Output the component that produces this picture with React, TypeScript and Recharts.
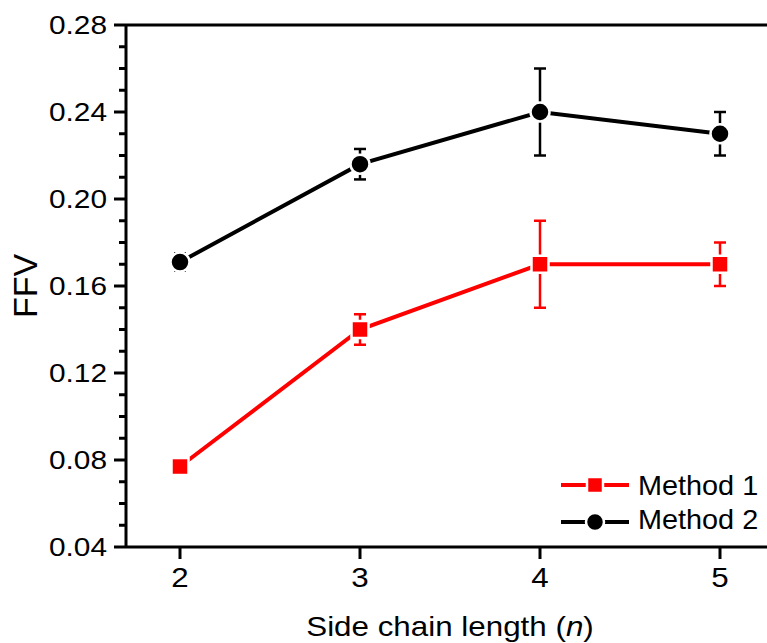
import React from 'react';
import { LineChart, Line, XAxis, YAxis, ErrorBar, ReferenceLine, Legend } from 'recharts';

const nValues = [2, 3, 4, 5];
const method1 = [0.077, 0.14, 0.17, 0.17];
const method1Err = [0.003, 0.007, 0.02, 0.01];
const method2 = [0.171, 0.216, 0.24, 0.23];
const method2Err = [0.004, 0.007, 0.02, 0.01];
const seriesNames = ['Method 1', 'Method 2'];
const xTicks = [2, 3, 4, 5];
const yMajorTicks = [0.04, 0.08, 0.12, 0.16, 0.2, 0.24, 0.28];
const yAllTicks = [
  0.04, 0.05, 0.06, 0.07, 0.08, 0.09, 0.1, 0.11, 0.12, 0.13, 0.14, 0.15, 0.16,
  0.17, 0.18, 0.19, 0.2, 0.21, 0.22, 0.23, 0.24, 0.25, 0.26, 0.27, 0.28,
];
const xAxisTitle = 'Side chain length (';
const yAxisTitle = 'FFV';

const data = nValues.map((n, i) => ({
  n,
  m1: method1[i],
  e1: method1Err[i],
  m2: method2[i],
  e2: method2Err[i],
}));

const FONT = '"Liberation Sans", Arial, Helvetica, sans-serif';
const RED = '#ff0000';
const BLACK = '#000000';

const YTick = (props: any) => {
  const { x, y, payload } = props;
  const v = payload.value as number;
  const major = yMajorTicks.some((t) => Math.abs(t - v) < 1e-9);
  return (
    <g>
      <line x1={x} x2={x - (major ? 12 : 7)} y1={y} y2={y} stroke={BLACK} strokeWidth={3} />
      {major && (
        <text
          transform={`translate(${x - 19},${y + 9}) scale(1.17,1)`}
          textAnchor="end"
          fontSize={25.5}
          fontFamily={FONT}
          fill={BLACK}
        >
          {v.toFixed(2)}
        </text>
      )}
    </g>
  );
};

const XTick = (props: any) => {
  const { x, y, payload } = props;
  return (
    <g>
      <line x1={x} x2={x} y1={y} y2={y + 12} stroke={BLACK} strokeWidth={3} />
      <text
        transform={`translate(${x},${y + 40}) scale(1.12,1)`}
        textAnchor="middle"
        fontSize={28}
        fontFamily={FONT}
        fill={BLACK}
      >
        {payload.value}
      </text>
    </g>
  );
};

const XLabel = (props: any) => {
  const vb = props.viewBox || {};
  const cx = (vb.x ?? 126) + (vb.width ?? 648) / 2;
  return (
    <text
      transform={`translate(${cx},636) scale(1.12,1)`}
      textAnchor="middle"
      fontSize={28}
      fontFamily={FONT}
      fill={BLACK}
    >
      {xAxisTitle}
      <tspan fontStyle="italic">n</tspan>)
    </text>
  );
};

const YLabel = (props: any) => {
  const vb = props.viewBox || {};
  const cy = (vb.y ?? 25) + (vb.height ?? 522) / 2;
  return (
    <text
      transform={`translate(37,${cy}) rotate(-90)`}
      textAnchor="middle"
      fontSize={34}
      fontFamily={FONT}
      fill={BLACK}
    >
      {yAxisTitle}
    </text>
  );
};

const SquareDot = (props: any) => {
  const { cx, cy, index } = props;
  if (cx == null || cy == null) return <g key={`s-${index}`} />;
  return (
    <rect
      key={`s-${index}`}
      x={cx - 8.5}
      y={cy - 8.5}
      width={17}
      height={17}
      fill={RED}
      stroke="#ffffff"
      strokeWidth={2.5}
    />
  );
};

const CircleDot = (props: any) => {
  const { cx, cy, index } = props;
  if (cx == null || cy == null) return <g key={`c-${index}`} />;
  return (
    <ellipse
      key={`c-${index}`}
      cx={cx}
      cy={cy}
      rx={9.5}
      ry={9.5}
      fill={BLACK}
      stroke="#ffffff"
      strokeWidth={2.5}
    />
  );
};

const LegendContent = () => (
  <svg width={210} height={75} style={{ display: 'block', overflow: 'visible' }}>
    <line x1={6} x2={74} y1={20} y2={20} stroke={RED} strokeWidth={4} />
    <rect x={32} y={12} width={16} height={16} fill={RED} stroke="#fff" strokeWidth={2.5} />
    <text
      transform="translate(83,30) scale(1.03,1)"
      fontSize={28}
      fontFamily={FONT}
      fill={BLACK}
    >
      {seriesNames[0]}
    </text>
    <line x1={6} x2={74} y1={57} y2={57} stroke={BLACK} strokeWidth={4} />
    <circle cx={40} cy={57} r={9} fill={BLACK} stroke="#fff" strokeWidth={2.5} />
    <text
      transform="translate(83,64) scale(1.03,1)"
      fontSize={28}
      fontFamily={FONT}
      fill={BLACK}
    >
      {seriesNames[1]}
    </text>
  </svg>
);

export default function App() {
  return (
    <div
      style={{
        position: 'absolute',
        left: 0,
        top: 0,
        width: 767,
        height: 643,
        overflow: 'hidden',
        background: '#fff',
      }}
    >
      <LineChart
        width={780}
        height={643}
        data={data}
        margin={{ top: 25, right: 6, bottom: 0, left: 0 }}
      >
        <XAxis
          dataKey="n"
          type="number"
          domain={[1.7, 5.3]}
          allowDataOverflow
          ticks={xTicks}
          interval={0}
          tickSize={0}
          tickMargin={0}
          tickLine={false}
          tick={<XTick />}
          axisLine={{ stroke: BLACK, strokeWidth: 3 }}
          height={96}
          label={<XLabel />}
        />
        <YAxis
          type="number"
          domain={[0.04, 0.28]}
          allowDataOverflow
          ticks={yAllTicks}
          interval={0}
          tickSize={0}
          tickMargin={0}
          tickLine={false}
          tick={<YTick />}
          axisLine={{ stroke: BLACK, strokeWidth: 3 }}
          width={126}
          label={<YLabel />}
        />
        <ReferenceLine y={0.28} stroke={BLACK} strokeWidth={3} />
        <Legend
          layout="vertical"
          align="center"
          verticalAlign="middle"
          content={<LegendContent />}
          wrapperStyle={{ left: 555, top: 465, width: 210, height: 75 }}
        />
        <Line
          type="linear"
          dataKey="m1"
          name={seriesNames[0]}
          stroke={RED}
          strokeWidth={4}
          dot={SquareDot}
          activeDot={false}
          isAnimationActive={false}
        >
          <ErrorBar dataKey="e1" direction="y" width={6} stroke={RED} strokeWidth={2.5} isAnimationActive={false} />
        </Line>
        <Line
          type="linear"
          dataKey="m2"
          name={seriesNames[1]}
          stroke={BLACK}
          strokeWidth={4}
          dot={CircleDot}
          activeDot={false}
          isAnimationActive={false}
        >
          <ErrorBar dataKey="e2" direction="y" width={6} stroke={BLACK} strokeWidth={2.5} isAnimationActive={false} />
        </Line>
      </LineChart>
    </div>
  );
}
